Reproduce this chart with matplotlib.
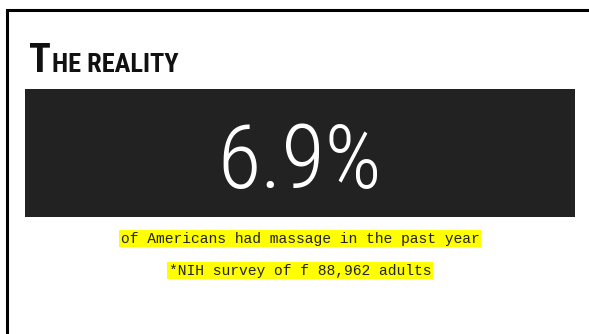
import matplotlib
matplotlib.use("Agg")
from matplotlib import pyplot as plt
from matplotlib import font_manager
from matplotlib.patches import Rectangle

# slide content
title_first = "T"
title_rest = "HE REALITY"
headline = "6.9%"
caption_lines = [
    "of Americans had massage in the past year",
    "*NIH survey of f 88,962 adults",
]

available = {f.name for f in font_manager.fontManager.ttflist}


def pick(*names):
    for name in names:
        if name in available:
            return name
    return "DejaVu Sans"


narrow = pick("Roboto Condensed", "Liberation Sans Narrow", "DejaVu Sans")
mono = pick("Liberation Mono", "DejaVu Sans Mono")

W, H = 589, 334
fig = plt.figure(figsize=(W / 100, H / 100), dpi=100)
ax = fig.add_axes([0, 0, 1, 1])
ax.set_xlim(0, W)
ax.set_ylim(H, 0)
ax.axis("off")

# frame (left and top edges only)
ax.plot([6.5, 6.5, W + 5], [H + 5, 9.5, 9.5], color="black", lw=2.2,
        solid_joinstyle="miter", clip_on=False)

# title: big first letter, small caps for the rest
t = ax.text(29, 72, title_first, fontsize=29, family=narrow, weight="bold",
            ha="left", va="baseline", color="#111111")
fig.canvas.draw()
x_rest = ax.transData.inverted().transform(
    (t.get_window_extent().x1, 0))[0] + 1
ax.text(x_rest, 72, title_rest, fontsize=19, family=narrow, weight="bold",
        ha="left", va="baseline", color="#111111")

# dark band with headline
ax.add_patch(Rectangle((25, 89), 550, 128, facecolor="#222222",
                       edgecolor="none"))
ax.text(300, 188, headline, fontsize=64, family=narrow, weight="light",
        ha="center", va="baseline", color="white")

# highlighted captions
for y, line in zip([238.5, 270.5], caption_lines):
    ax.text(300, y, line, fontsize=10.5, family=mono, ha="center",
            va="center", color="#222222",
            bbox=dict(boxstyle="square,pad=0.12", facecolor="#ffff00",
                      edgecolor="none"))

fig.savefig("out.png", dpi=100)
